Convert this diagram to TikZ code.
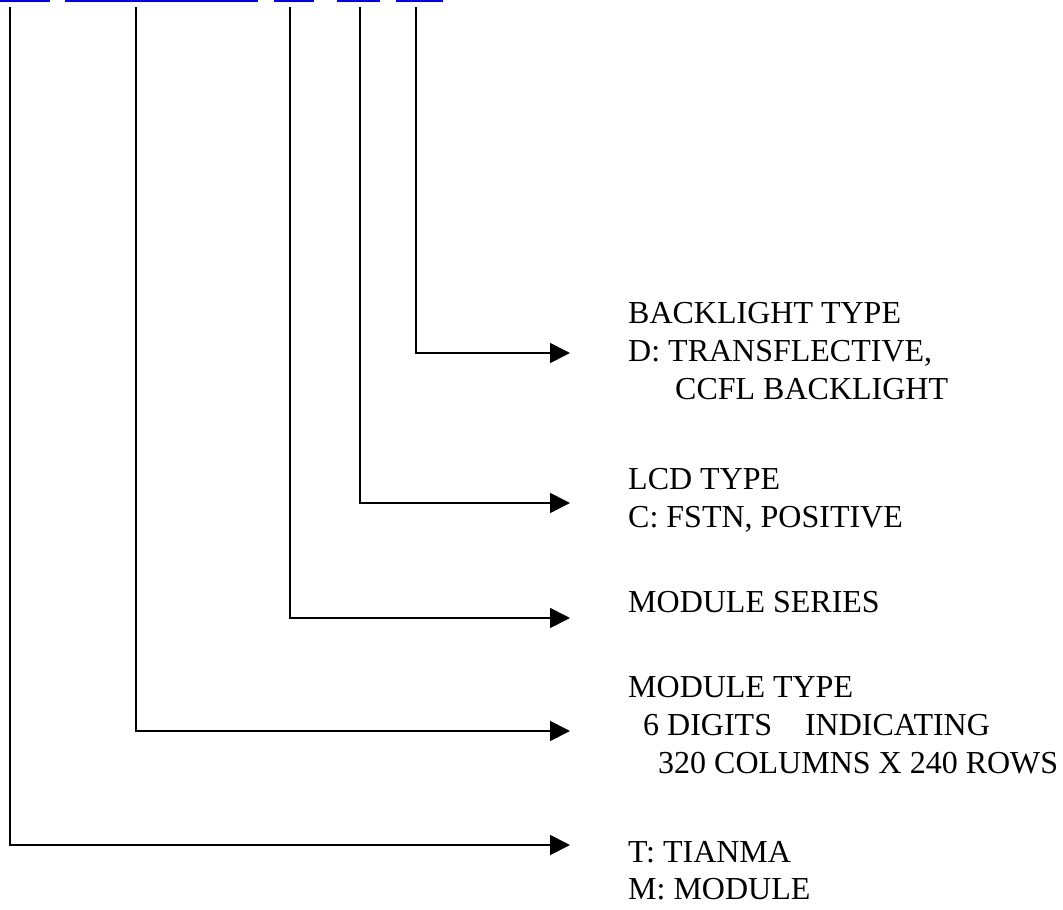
\documentclass[tikz,border=0pt]{standalone}
\usepackage{fontspec}
\setmainfont{Liberation Serif}
\usetikzlibrary{arrows.meta}
\begin{document}
\begin{tikzpicture}[x=1pt,y=-1pt,
  conn/.style={line width=1.8pt, -{Triangle[length=20pt,width=20pt]}},
  lbl/.style={anchor=base west, inner sep=0pt, font=\fontsize{32}{38}\selectfont},
  link/.style={blue, line width=2pt}]
\useasboundingbox (0,0) rectangle (1063,910);
% blue underline segments at top
\coordinate (l1a) at (0,0.8);   \coordinate (l1b) at (50,0.8);
\coordinate (l2a) at (65,0.8);  \coordinate (l2b) at (258,0.8);
\coordinate (l3a) at (274,0.8); \coordinate (l3b) at (314,0.8);
\coordinate (l4a) at (337,0.8); \coordinate (l4b) at (380,0.8);
\coordinate (l5a) at (396,0.8); \coordinate (l5b) at (443,0.8);
\draw[link] (l1a) -- (l1b);
\draw[link] (l2a) -- (l2b);
\draw[link] (l3a) -- (l3b);
\draw[link] (l4a) -- (l4b);
\draw[link] (l5a) -- (l5b);
% connector start points
\coordinate (s1) at (10,7);
\coordinate (s2) at (136,7);
\coordinate (s3) at (290,7);
\coordinate (s4) at (360,7);
\coordinate (s5) at (416,7);
% arrow ends
\coordinate (e1) at (570,845);
\coordinate (e2) at (570,731);
\coordinate (e3) at (570,618);
\coordinate (e4) at (570,503);
\coordinate (e5) at (570,353);
\draw[conn] (s1) |- (e1);
\draw[conn] (s2) |- (e2);
\draw[conn] (s3) |- (e3);
\draw[conn] (s4) |- (e4);
\draw[conn] (s5) |- (e5);
% labels
\node[lbl] (bt1) at (628,323) {BACKLIGHT TYPE};
\node[lbl] (bt2) at (628,361) {D: TRANSFLECTIVE,};
\node[lbl] (bt3) at (675,399) {CCFL BACKLIGHT};
\node[lbl] (lc1) at (628,489) {LCD TYPE};
\node[lbl] (lc2) at (628,527) {C: FSTN, POSITIVE};
\node[lbl] (ms1) at (628,612) {MODULE SERIES};
\node[lbl] (mt1) at (628,697) {MODULE TYPE};
\node[lbl] (mt2) at (643,735) {6 DIGITS\hspace{33pt}INDICATING};
\node[lbl] (mt3) at (658,773) {320 COLUMNS X 240 ROWS};
\node[lbl] (tm1) at (628,862) {T: TIANMA};
\node[lbl] (tm2) at (628,899) {M: MODULE};
\end{tikzpicture}
\end{document}
